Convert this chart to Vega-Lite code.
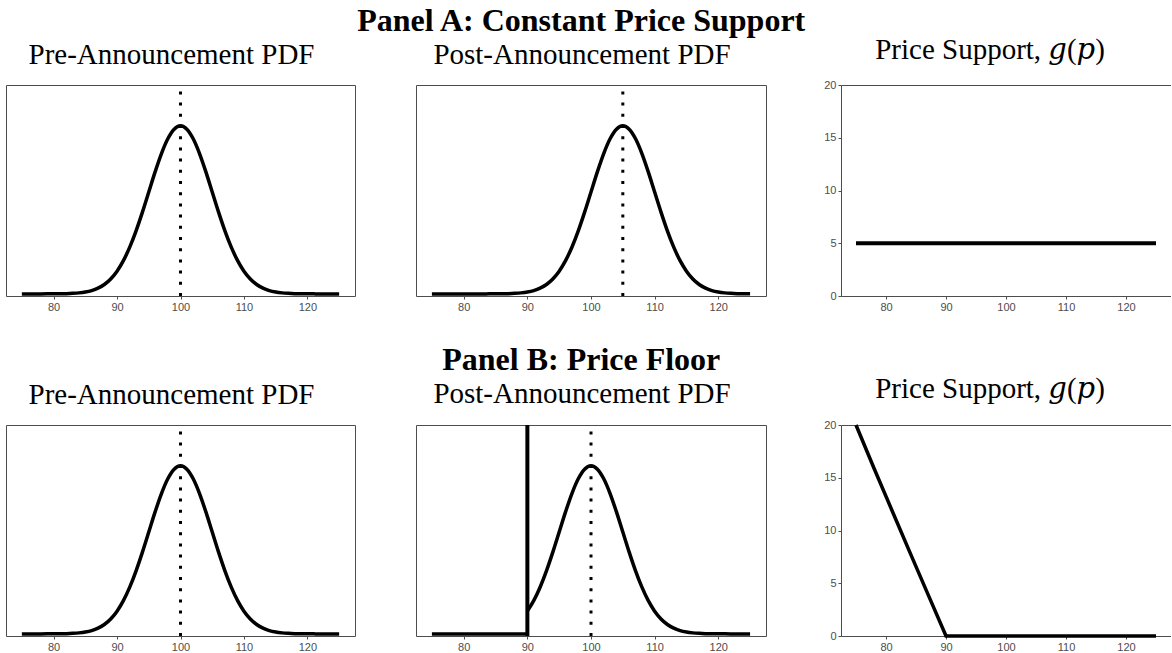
{
  "$schema": "https://vega.github.io/schema/vega-lite/v6.json",
  "background": "white",
  "padding": {"left": 5, "top": 5, "right": 0, "bottom": 0},
  "spacing": 31,
  "config": {
    "view": {"stroke": "#4d4d4d", "strokeWidth": 1},
    "axis": {"labelFont": "Liberation Sans", "labelFontSize": 11, "labelColor": "#4d4d4d", "tickColor": "#4d4d4d", "domainColor": "#4d4d4d", "tickSize": 3, "labelPadding": 2, "grid": false},
    "title": {"font": "Liberation Serif", "fontSize": 29, "fontWeight": "normal", "color": "black", "offset": 14, "dx": -9, "anchor": "middle"},
    "line": {"color": "black", "strokeWidth": 3.5, "clip": true},
    "rule": {"color": "black"}
  },
  "datasets": {
    "n100": [
      {"p":75,"d":0},{"p":76,"d":0},{"p":77,"d":0},{"p":78,"d":0.000005},{"p":79,"d":0.00001},{"p":80,"d":0.00003},
      {"p":81,"d":0.00006},{"p":82,"d":0.00012},{"p":83,"d":0.00025},{"p":84,"d":0.00048},{"p":85,"d":0.00089},
      {"p":86,"d":0.00158},{"p":87,"d":0.00272},{"p":88,"d":0.00448},{"p":89,"d":0.00709},{"p":90,"d":0.0108},
      {"p":91,"d":0.01579},{"p":92,"d":0.02218},{"p":93,"d":0.02995},{"p":94,"d":0.03884},{"p":95,"d":0.04839},
      {"p":96,"d":0.05794},{"p":97,"d":0.06664},{"p":98,"d":0.07365},{"p":99,"d":0.07821},{"p":100,"d":0.07979},
      {"p":101,"d":0.07821},{"p":102,"d":0.07365},{"p":103,"d":0.06664},{"p":104,"d":0.05794},{"p":105,"d":0.04839},
      {"p":106,"d":0.03884},{"p":107,"d":0.02995},{"p":108,"d":0.02218},{"p":109,"d":0.01579},{"p":110,"d":0.0108},
      {"p":111,"d":0.00709},{"p":112,"d":0.00448},{"p":113,"d":0.00272},{"p":114,"d":0.00158},{"p":115,"d":0.00089},
      {"p":116,"d":0.00048},{"p":117,"d":0.00025},{"p":118,"d":0.00012},{"p":119,"d":0.00006},{"p":120,"d":0.00003},
      {"p":121,"d":0.00001},{"p":122,"d":0.000005},{"p":123,"d":0},{"p":124,"d":0},{"p":125,"d":0}
    ],
    "n105": [
      {"p":75,"d":0},{"p":76,"d":0},{"p":77,"d":0},{"p":78,"d":0},{"p":79,"d":0},{"p":80,"d":0},
      {"p":81,"d":0},{"p":82,"d":0},{"p":83,"d":0.000005},{"p":84,"d":0.00001},{"p":85,"d":0.00003},
      {"p":86,"d":0.00006},{"p":87,"d":0.00012},{"p":88,"d":0.00025},{"p":89,"d":0.00048},{"p":90,"d":0.00089},
      {"p":91,"d":0.00158},{"p":92,"d":0.00272},{"p":93,"d":0.00448},{"p":94,"d":0.00709},{"p":95,"d":0.0108},
      {"p":96,"d":0.01579},{"p":97,"d":0.02218},{"p":98,"d":0.02995},{"p":99,"d":0.03884},{"p":100,"d":0.04839},
      {"p":101,"d":0.05794},{"p":102,"d":0.06664},{"p":103,"d":0.07365},{"p":104,"d":0.07821},{"p":105,"d":0.07979},
      {"p":106,"d":0.07821},{"p":107,"d":0.07365},{"p":108,"d":0.06664},{"p":109,"d":0.05794},{"p":110,"d":0.04839},
      {"p":111,"d":0.03884},{"p":112,"d":0.02995},{"p":113,"d":0.02218},{"p":114,"d":0.01579},{"p":115,"d":0.0108},
      {"p":116,"d":0.00709},{"p":117,"d":0.00448},{"p":118,"d":0.00272},{"p":119,"d":0.00158},{"p":120,"d":0.00089},
      {"p":121,"d":0.00048},{"p":122,"d":0.00025},{"p":123,"d":0.00012},{"p":124,"d":0.00006},{"p":125,"d":0.00003}
    ],
    "nB": [
      {"p":90,"d":0.0108},
      {"p":91,"d":0.01579},{"p":92,"d":0.02218},{"p":93,"d":0.02995},{"p":94,"d":0.03884},{"p":95,"d":0.04839},
      {"p":96,"d":0.05794},{"p":97,"d":0.06664},{"p":98,"d":0.07365},{"p":99,"d":0.07821},{"p":100,"d":0.07979},
      {"p":101,"d":0.07821},{"p":102,"d":0.07365},{"p":103,"d":0.06664},{"p":104,"d":0.05794},{"p":105,"d":0.04839},
      {"p":106,"d":0.03884},{"p":107,"d":0.02995},{"p":108,"d":0.02218},{"p":109,"d":0.01579},{"p":110,"d":0.0108},
      {"p":111,"d":0.00709},{"p":112,"d":0.00448},{"p":113,"d":0.00272},{"p":114,"d":0.00158},{"p":115,"d":0.00089},
      {"p":116,"d":0.00048},{"p":117,"d":0.00025},{"p":118,"d":0.00012},{"p":119,"d":0.00006},{"p":120,"d":0.00003},
      {"p":121,"d":0.00001},{"p":122,"d":0.000005},{"p":123,"d":0},{"p":124,"d":0},{"p":125,"d":0}
    ],
    "zeroB": [{"p":75,"d":0},{"p":90,"d":0}],
    "gA": [{"p":75,"g":5},{"p":125,"g":5}],
    "gB": [{"p":75,"g":20},{"p":78,"g":15.9},{"p":81,"g":11.9},{"p":84,"g":7.9},{"p":87,"g":3.95},{"p":90,"g":0},{"p":125,"g":0}]
  },
  "vconcat": [
    {
      "title": {"text": "Panel A: Constant Price Support", "fontSize": 32, "fontWeight": "bold", "offset": -2, "dx": -7},
      "spacing": 59,
      "hconcat": [
        {
          "width": 349, "height": 211,
          "title": "Pre-Announcement PDF",
          "layer": [
            {"data": {"name": "n100"}, "mark": {"type": "line", "interpolate": "monotone"},
             "encoding": {
               "x": {"field": "p", "type": "quantitative", "title": null, "scale": {"domain": [72.5, 127.5], "nice": false, "zero": false}, "axis": {"values": [80, 90, 100, 110, 120], "domain": false}},
               "y": {"field": "d", "type": "quantitative", "scale": {"domain": [-0.001, 0.0992], "nice": false, "zero": false}, "axis": null}}},
            {"data": {"values": [{"p": 100}]}, "mark": {"type": "rule", "strokeWidth": 3, "strokeDash": [3, 8.2], "strokeDashOffset": 4.8},
             "encoding": {"x": {"field": "p", "type": "quantitative"}}}
          ]
        },
        {
          "spacing": 56,
          "hconcat": [
            {
              "width": 350, "height": 211,
              "title": "Post-Announcement PDF",
              "layer": [
                {"data": {"name": "n105"}, "mark": {"type": "line", "interpolate": "monotone"},
                 "encoding": {
                   "x": {"field": "p", "type": "quantitative", "title": null, "scale": {"domain": [72.5, 127.5], "nice": false, "zero": false}, "axis": {"values": [80, 90, 100, 110, 120], "domain": false}},
                   "y": {"field": "d", "type": "quantitative", "scale": {"domain": [-0.001, 0.0992], "nice": false, "zero": false}, "axis": null}}},
                {"data": {"values": [{"p": 105}]}, "mark": {"type": "rule", "strokeWidth": 3, "strokeDash": [3, 8.2], "strokeDashOffset": 4.8},
                 "encoding": {"x": {"field": "p", "type": "quantitative"}}}
              ]
            },
            {
              "width": 330, "height": 211,
              "title": {"text": "Price Support, 𝑔(𝑝)", "font": "Liberation Serif, DejaVu Serif, serif", "dx": -16},
              "view": {"stroke": null},
              "layer": [
                {"data": {"name": "gA"}, "mark": {"type": "line", "strokeWidth": 3.8, "clip": false},
                 "encoding": {
                   "x": {"field": "p", "type": "quantitative", "title": null, "scale": {"domain": [72.5, 127.5], "nice": false, "zero": false}, "axis": {"orient": "bottom", "values": [80, 90, 100, 110, 120]}},
                   "y": {"field": "g", "type": "quantitative", "title": null, "scale": {"domain": [0, 20], "nice": false}, "axis": {"values": [0, 5, 10, 15, 20]}}}},
                {"data": {"name": "gA"}, "mark": {"type": "rule", "opacity": 0},
                 "encoding": {"x": {"field": "p", "type": "quantitative", "title": null, "axis": {"orient": "top", "labels": false, "ticks": false}}}}
              ]
            }
          ]
        }
      ]
    },
    {
      "title": {"text": "Panel B: Price Floor", "fontSize": 32, "fontWeight": "bold", "offset": -2, "dx": -7},
      "spacing": 59,
      "hconcat": [
        {
          "width": 349, "height": 211,
          "title": "Pre-Announcement PDF",
          "layer": [
            {"data": {"name": "n100"}, "mark": {"type": "line", "interpolate": "monotone"},
             "encoding": {
               "x": {"field": "p", "type": "quantitative", "title": null, "scale": {"domain": [72.5, 127.5], "nice": false, "zero": false}, "axis": {"values": [80, 90, 100, 110, 120], "domain": false}},
               "y": {"field": "d", "type": "quantitative", "scale": {"domain": [-0.001, 0.0992], "nice": false, "zero": false}, "axis": null}}},
            {"data": {"values": [{"p": 100}]}, "mark": {"type": "rule", "strokeWidth": 3, "strokeDash": [3, 8.2], "strokeDashOffset": 4.8},
             "encoding": {"x": {"field": "p", "type": "quantitative"}}}
          ]
        },
        {
          "spacing": 56,
          "hconcat": [
            {
              "width": 350, "height": 211,
              "title": "Post-Announcement PDF",
              "layer": [
                {"data": {"name": "nB"}, "mark": {"type": "line", "interpolate": "monotone"},
                 "encoding": {
                   "x": {"field": "p", "type": "quantitative", "title": null, "scale": {"domain": [72.5, 127.5], "nice": false, "zero": false}, "axis": {"values": [80, 90, 100, 110, 120], "domain": false}},
                   "y": {"field": "d", "type": "quantitative", "scale": {"domain": [-0.001, 0.0992], "nice": false, "zero": false}, "axis": null}}},
                {"data": {"name": "zeroB"}, "mark": {"type": "line"},
                 "encoding": {"x": {"field": "p", "type": "quantitative"}, "y": {"field": "d", "type": "quantitative"}}},
                {"data": {"values": [{"p": 90}]}, "mark": {"type": "rule", "strokeWidth": 4},
                 "encoding": {"x": {"field": "p", "type": "quantitative"}}},
                {"data": {"values": [{"p": 100}]}, "mark": {"type": "rule", "strokeWidth": 3, "strokeDash": [3, 8.2], "strokeDashOffset": 4.8},
                 "encoding": {"x": {"field": "p", "type": "quantitative"}}}
              ]
            },
            {
              "width": 330, "height": 211,
              "title": {"text": "Price Support, 𝑔(𝑝)", "font": "Liberation Serif, DejaVu Serif, serif", "dx": -16},
              "view": {"stroke": null},
              "layer": [
                {"data": {"name": "gB"}, "mark": {"type": "line", "strokeWidth": 3.5, "clip": false},
                 "encoding": {
                   "x": {"field": "p", "type": "quantitative", "title": null, "scale": {"domain": [72.5, 127.5], "nice": false, "zero": false}, "axis": {"orient": "bottom", "values": [80, 90, 100, 110, 120]}},
                   "y": {"field": "g", "type": "quantitative", "title": null, "scale": {"domain": [0, 20], "nice": false}, "axis": {"values": [0, 5, 10, 15, 20]}}}},
                {"data": {"name": "gB"}, "mark": {"type": "rule", "opacity": 0},
                 "encoding": {"x": {"field": "p", "type": "quantitative", "title": null, "axis": {"orient": "top", "labels": false, "ticks": false}}}}
              ]
            }
          ]
        }
      ]
    }
  ]
}
